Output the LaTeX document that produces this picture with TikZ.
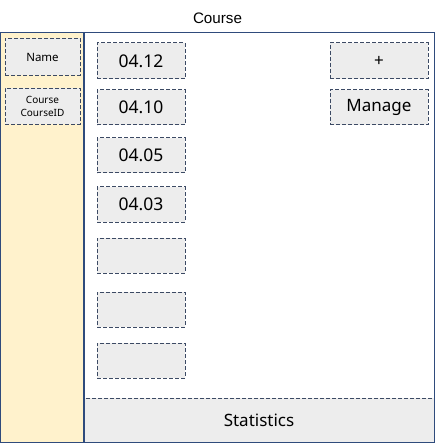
\documentclass[tikz,border=0pt]{standalone}
\usepackage{fontspec}
\setmainfont{Noto Sans}
\newfontfamily\titlefont{Liberation Sans}
\definecolor{framec}{HTML}{2F4B7C}
\definecolor{dashc}{HTML}{3C4A64}
\definecolor{boxfill}{HTML}{EDEDED}
\definecolor{sidefill}{HTML}{FFF2CC}
\begin{document}
\begin{tikzpicture}[x=1pt,y=-1pt,
  dbox/.style={draw=dashc, fill=boxfill, line width=1pt, dash pattern=on 4pt off 2pt, inner sep=0pt, anchor=center},
  datebox/.style={dbox, minimum width=88pt, minimum height=35pt, font=\fontsize{17.5}{20}\selectfont},
  sidebox/.style={dbox, minimum width=75pt, minimum height=36pt, align=center},
  actbox/.style={dbox, minimum width=98pt, minimum height=35pt, font=\fontsize{17}{20}\selectfont},
  framestyle/.style={draw=framec, line width=1.2pt}]
\useasboundingbox (0,0) rectangle (435,443);
% title
\node[font=\titlefont\fontsize{15.2}{18}\selectfont, text=black] (title) at (217.5,18) {Course};
% side panel
\fill[sidefill] (0.6,32.5) rectangle (84,442.3);
% statistics bar
\node[dbox, minimum width=350pt, minimum height=44pt, font=\fontsize{17}{20}\selectfont] (stats) at (259,420) {Statistics};
% frame
\draw[framestyle] (0.6,32.5) rectangle (434.2,442.3);
\draw[framestyle] (84,32.5) -- (84,442.3);
% side boxes
\node[sidebox, minimum height=37pt, font=\fontsize{11.5}{13}\selectfont] (name) at (42.5,57) {Name};
\node[sidebox, font=\fontsize{10}{13}\selectfont] (cid) at (42.5,106.5) {Course\\CourseID};
% date boxes
\node[datebox, minimum height=36pt] (d1) at (141,61) {04.12};
\node[datebox] (d2) at (141,107.5) {04.10};
\node[datebox] (d3) at (141,155.5) {04.05};
\node[datebox] (d4) at (141,204.5) {04.03};
\node[datebox] (d5) at (141,255.5) {};
\node[datebox] (d6) at (141,309.5) {};
\node[datebox] (d7) at (141,360.5) {};
% action boxes
\node[actbox, minimum height=36pt] (plus) at (379,61) {+};
\node[actbox] (manage) at (379,107.5) {Manage};
\end{tikzpicture}
\end{document}
